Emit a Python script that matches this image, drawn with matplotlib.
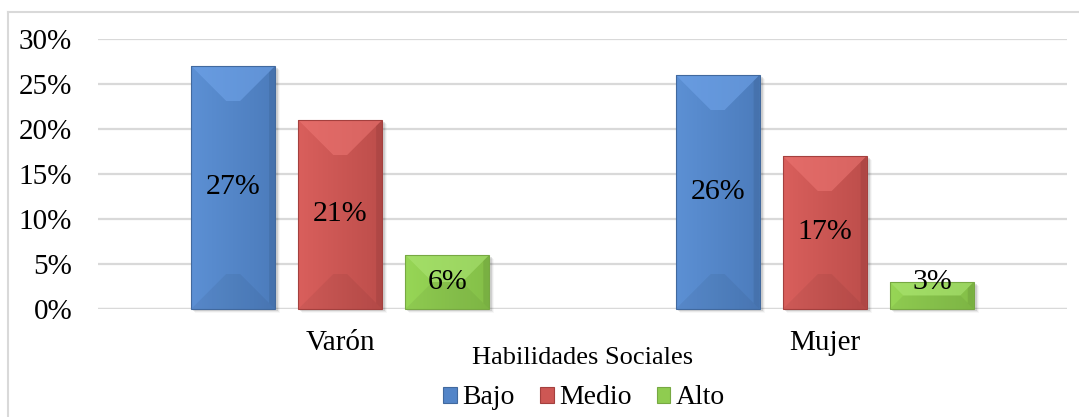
import matplotlib
matplotlib.use("Agg")
import matplotlib.pyplot as plt
from matplotlib.patches import Polygon, Rectangle
from matplotlib.lines import Line2D
from matplotlib.colors import to_rgb
import numpy as np

categories = ["Varón", "Mujer"]
series_names = ["Bajo", "Medio", "Alto"]
bajo = [27, 26]
medio = [21, 17]
alto = [6, 3]
yticks = [0, 5, 10, 15, 20, 25, 30]
axis_title = "Habilidades Sociales"

series_values = [bajo, medio, alto]
face_l = ["#5C90D4", "#D95F5C", "#97D656"]
face_r = ["#4C7CBC", "#BD4E4B", "#84BF48"]
face = ["#5385C8", "#CD5754", "#8FCC50"]
light = ["#72A6EC", "#EE7774", "#ADE675"]
edge = ["#41699E", "#A4403E", "#77A843"]

plt.rcParams['font.family'] = ['Liberation Serif', 'DejaVu Serif']

fig = plt.figure(figsize=(10.79, 4.17), dpi=100)
ax = fig.add_axes([98/1079, 1-309/417, (1067-98)/1079, (309-39)/417])

x = np.arange(len(categories))
width = 0.173
step = 0.221

bars_all = []
for i, (name, vals) in enumerate(zip(series_names, series_values)):
    off = (i - 1) * step
    bars = ax.bar(x + off, vals, width, color=face[i], edgecolor='none',
                  linewidth=0, zorder=3, label=name)
    bars_all.append((i, bars, vals))

ax.set_ylim(0, 30)
ax.set_xlim(-0.5, 1.5)
ax.set_yticks(yticks)
ax.set_yticklabels([f"{t}%" for t in yticks])
ax.set_xticks(x)
ax.set_xticklabels(categories)
ax.yaxis.grid(True, color="#D9D9D9", linewidth=1.6, zorder=0)
ax.set_axisbelow(True)
for sp in ax.spines.values():
    sp.set_visible(False)
ax.tick_params(axis='both', length=0, labelsize=21)
ax.tick_params(axis='y', pad=18.5)
ax.tick_params(axis='x', pad=15)
ax.axhline(0, color="#D9D9D9", linewidth=1.6, zorder=2)

fig.canvas.draw()

for i, bars, vals in bars_all:
    cl = np.array(to_rgb(face_l[i]))
    cr = np.array(to_rgb(face_r[i]))
    t = np.linspace(0, 1, 64)[None, :, None]
    grad = cl[None, None, :] * (1 - t) + cr[None, None, :] * t
    for b, v in zip(bars, vals):
        bx, by, bw, bh = b.get_x(), b.get_y(), b.get_width(), b.get_height()
        im = ax.imshow(grad, extent=[bx, bx + bw, by, by + bh], aspect='auto',
                       zorder=3.5, interpolation='bilinear')
        im.set_clip_path(b)
        bb = b.get_window_extent()
        x0, x1, y0, y1 = bb.x0, bb.x1, bb.y0, bb.y1
        h = y1 - y0
        d = min(35, h / 2)
        dx = min(d, (x1 - x0) / 2)
        for k, a in enumerate([0.10, 0.06, 0.03]):
            sh = Rectangle((x0 + 2 + k, y0 - 2 - k), x1 - x0 + 1, h, transform=None,
                           facecolor="#000000", alpha=a, edgecolor='none', zorder=2)
            sh.set_clip_on(False)
            ax.add_artist(sh)
        top = Polygon([[x0, y1], [x1, y1], [x1 - dx, y1 - d], [x0 + dx, y1 - d]],
                      closed=True, transform=None, facecolor=light[i],
                      edgecolor='none', zorder=4, alpha=0.55)
        bot = Polygon([[x0, y0], [x1, y0], [x1 - dx, y0 + d], [x0 + dx, y0 + d]],
                      closed=True, transform=None, facecolor="black",
                      edgecolor='none', zorder=4, alpha=0.05)
        right = Polygon([[x1, y1], [x1, y0], [x1 - 6, y0 + 6], [x1 - 6, y1 - 6]],
                        closed=True, transform=None, facecolor="black",
                        edgecolor='none', zorder=4, alpha=0.08)
        for a in (top, bot, right):
            a.set_clip_on(False)
            ax.add_artist(a)
        ol = Rectangle((x0, y0), x1 - x0, h, transform=None, facecolor='none',
                       edgecolor=edge[i], linewidth=0.8, zorder=5)
        ol.set_clip_on(False)
        ax.add_artist(ol)
        ly = max(v / 2, 3.0)
        ax.text(bx + bw / 2, ly, f"{v}%", ha='center',
                va='center', fontsize=21.5, color='black', zorder=6)

ax.set_xlim(-0.5, 1.5)
ax.set_ylim(0, 30)
ax.set_xlabel(axis_title, fontsize=19, labelpad=-6)

handles = [Rectangle((0, 0), 1, 1, facecolor=face[i], edgecolor=edge[i], linewidth=0.8)
           for i in range(3)]
leg = fig.legend(handles, series_names, loc='center', bbox_to_anchor=(584/1079, 1-398/417),
                 ncol=3, frameon=False, fontsize=20, handlelength=0.5, handleheight=0.5,
                 handletextpad=0.2, columnspacing=0.9, borderaxespad=0)

fig.add_artist(Line2D([8/1079, 8/1079], [0, 1-12/417], transform=fig.transFigure,
                      color="#D9D9D9", linewidth=1.5))
fig.add_artist(Line2D([8/1079, 1], [1-12/417, 1-12/417], transform=fig.transFigure,
                      color="#D9D9D9", linewidth=1.5))

fig.savefig("out.png", dpi=100)
